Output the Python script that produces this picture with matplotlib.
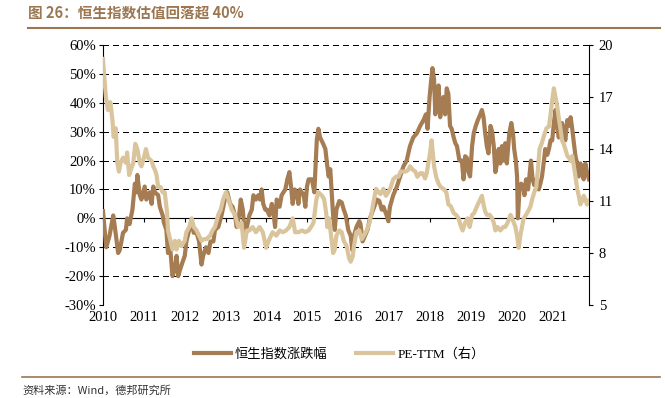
import matplotlib.pyplot as plt
import matplotlib.ticker as mticker

# 恒生指数涨跌幅 (%)
hsi_t = [2010.00, 2010.04, 2010.08, 2010.16, 2010.25, 2010.29, 2010.37, 2010.41, 2010.49, 2010.56,
         2010.59, 2010.65, 2010.72, 2010.78, 2010.82, 2010.84, 2010.90, 2010.94, 2011.02, 2011.06,
         2011.14, 2011.19, 2011.23, 2011.27, 2011.35, 2011.39, 2011.46, 2011.49, 2011.55, 2011.59,
         2011.64, 2011.70, 2011.76, 2011.80, 2011.84, 2011.88, 2011.95, 2012.00, 2012.04, 2012.11,
         2012.17, 2012.22, 2012.29, 2012.35, 2012.41, 2012.45, 2012.52, 2012.58, 2012.63, 2012.70,
         2012.74, 2012.82, 2012.90, 2012.98, 2013.04, 2013.11, 2013.17, 2013.23, 2013.27, 2013.33,
         2013.37, 2013.42, 2013.46, 2013.52, 2013.58, 2013.64, 2013.68, 2013.74, 2013.80, 2013.84,
         2013.88, 2013.92, 2013.97, 2014.01, 2014.07, 2014.13, 2014.17, 2014.21, 2014.25, 2014.32,
         2014.37, 2014.46, 2014.51, 2014.56, 2014.60, 2014.64, 2014.69, 2014.74, 2014.78, 2014.82,
         2014.91, 2014.95, 2014.99, 2015.03, 2015.11, 2015.17, 2015.23, 2015.27, 2015.31, 2015.38,
         2015.44, 2015.48, 2015.52, 2015.56, 2015.59, 2015.63, 2015.67, 2015.71, 2015.78, 2015.84,
         2015.89, 2015.94, 2016.00, 2016.06, 2016.10, 2016.14, 2016.20, 2016.27, 2016.30, 2016.35,
         2016.41, 2016.47, 2016.53, 2016.61, 2016.70, 2016.76, 2016.82, 2016.86, 2016.94, 2016.98,
         2017.02, 2017.10, 2017.19, 2017.27, 2017.35, 2017.43, 2017.51, 2017.59, 2017.68, 2017.76,
         2017.84, 2017.90, 2017.94, 2017.99, 2018.03, 2018.06, 2018.10, 2018.13, 2018.17, 2018.21,
         2018.25, 2018.29, 2018.33, 2018.37, 2018.41, 2018.45, 2018.49, 2018.53, 2018.58, 2018.62,
         2018.66, 2018.72, 2018.78, 2018.82, 2018.86, 2018.90, 2018.94, 2018.98, 2019.03, 2019.07,
         2019.12, 2019.17, 2019.23, 2019.27, 2019.31, 2019.35, 2019.39, 2019.43, 2019.48, 2019.52,
         2019.56, 2019.60, 2019.64, 2019.68, 2019.72, 2019.76, 2019.80, 2019.84, 2019.88, 2019.94,
         2019.99, 2020.03, 2020.06, 2020.10, 2020.13, 2020.15, 2020.19, 2020.23, 2020.28, 2020.31,
         2020.35, 2020.40, 2020.44, 2020.47, 2020.51, 2020.55, 2020.60, 2020.66, 2020.70, 2020.74,
         2020.78, 2020.82, 2020.87, 2020.91, 2020.95, 2020.99, 2021.03, 2021.07, 2021.11, 2021.15,
         2021.19, 2021.23, 2021.27, 2021.31, 2021.36, 2021.40, 2021.44, 2021.48, 2021.52, 2021.56,
         2021.60, 2021.64, 2021.68, 2021.72, 2021.76, 2021.80, 2021.84, 2021.89]
hsi_chg = [2.5, -4, -10, -6, 1, -3, -12, -11, -5, -4,
           0, -2, 3, 12, 9, 15, 8, 6.5, 11, 6.5,
           9, 5, 11, 9, 8, 4, 1, -1.5, -4, -12,
           -9.5, -20, -17.5, -13, -20, -18, -15, -13, -8, -4,
           -1.5, -5, -5, -8, -16, -13, -10, -12, -8, -8,
           -4, -3, 1, 6.5, 9, 5, 4, 1, -3, 1,
           6.5, 3, -4, -3, 1, 3, 8, 6.5, 8, 6.5,
           10, 5, 3, 3, 1, 5, 2, -3, 6.5, 4,
           8, 10, 13.5, 16, 11, 5, 10, 9, 5, 10,
           8, 4, 11, 13.5, 13.5, 9, 27, 31, 28, 26,
           24, 19, 14.5, 17, 10, 1, -4, 3, 6, 5.5,
           3, 1, -4, -6, -11, -6, -3, -1, -2, -8,
           -6, -4, 0, 3, 6.5, 6, 3, 4, 1, -1,
           4, 8, 11, 14.5, 18, 20, 25, 28, 29.5, 32,
           34, 36, 31, 42, 48, 52, 48, 36, 42, 46,
           35, 40, 42, 36, 45, 43, 32, 31, 28, 26,
           25, 20, 20, 13.5, 21.5, 21, 16, 14.5, 25, 29.5,
           32, 34, 36, 37.5, 35, 29.5, 25, 22.5, 32, 30,
           25, 16, 19, 24, 19, 25, 20, 26, 19, 29.5,
           33, 29.5, 24, 20, 14.5, 0, 10, 12, 11, 8,
           13.5, 10, 15.5, 20, 13.5, 11.5, 13.5, 10, 12, 14.5,
           19, 24, 22, 24, 27, 27, 33, 37.5, 32, 28,
           31, 33, 31, 27, 34, 32, 35, 31, 26, 21.5,
           19, 14.5, 19, 16, 13.5, 19, 16, 13.5]

# PE-TTM (右轴)
pe_t = [2010.00, 2010.02, 2010.07, 2010.12, 2010.18, 2010.23, 2010.26, 2010.31, 2010.35, 2010.39,
        2010.43, 2010.49, 2010.56, 2010.59, 2010.64, 2010.68, 2010.74, 2010.79, 2010.84, 2010.90,
        2010.94, 2011.00, 2011.05, 2011.10, 2011.19, 2011.23, 2011.27, 2011.31, 2011.35, 2011.41,
        2011.46, 2011.51, 2011.57, 2011.59, 2011.65, 2011.70, 2011.76, 2011.80, 2011.86, 2011.92,
        2012.00, 2012.04, 2012.11, 2012.17, 2012.22, 2012.29, 2012.35, 2012.41, 2012.47, 2012.53,
        2012.62, 2012.68, 2012.74, 2012.82, 2012.88, 2012.94, 2013.01, 2013.07, 2013.15, 2013.23,
        2013.31, 2013.39, 2013.45, 2013.52, 2013.58, 2013.66, 2013.74, 2013.83, 2013.91, 2013.99,
        2014.07, 2014.15, 2014.24, 2014.32, 2014.40, 2014.48, 2014.56, 2014.64, 2014.70, 2014.78,
        2014.87, 2014.95, 2015.03, 2015.09, 2015.15, 2015.22, 2015.27, 2015.36, 2015.41, 2015.46,
        2015.49, 2015.53, 2015.58, 2015.63, 2015.67, 2015.71, 2015.78, 2015.84, 2015.89, 2015.96,
        2016.02, 2016.06, 2016.11, 2016.14, 2016.20, 2016.27, 2016.33, 2016.38, 2016.45, 2016.52,
        2016.57, 2016.63, 2016.68, 2016.74, 2016.79, 2016.86, 2016.92, 2016.98, 2017.04, 2017.10,
        2017.17, 2017.23, 2017.28, 2017.35, 2017.41, 2017.47, 2017.51, 2017.58, 2017.64, 2017.69,
        2017.76, 2017.82, 2017.88, 2017.92, 2017.96, 2018.00, 2018.04, 2018.07, 2018.10, 2018.15,
        2018.21, 2018.26, 2018.33, 2018.40, 2018.45, 2018.51, 2018.58, 2018.64, 2018.70, 2018.76,
        2018.80, 2018.86, 2018.92, 2018.97, 2019.03, 2019.08, 2019.15, 2019.21, 2019.27, 2019.31,
        2019.35, 2019.39, 2019.46, 2019.52, 2019.56, 2019.60, 2019.65, 2019.72, 2019.79, 2019.84,
        2019.90, 2019.97, 2020.01, 2020.05, 2020.09, 2020.13, 2020.17, 2020.21, 2020.25, 2020.29,
        2020.35, 2020.42, 2020.46, 2020.50, 2020.55, 2020.60, 2020.64, 2020.68, 2020.73, 2020.78,
        2020.85, 2020.91, 2020.95, 2020.99, 2021.03, 2021.07, 2021.11, 2021.15, 2021.19, 2021.23,
        2021.27, 2021.31, 2021.36, 2021.40, 2021.44, 2021.48, 2021.52, 2021.56, 2021.60, 2021.64,
        2021.68, 2021.72, 2021.76, 2021.80, 2021.84, 2021.89]
pe_ttm = [19.2, 18.5, 17.0, 16.25, 16.7, 15.7, 14.7, 15.2, 13.2, 12.7,
          13.2, 13.5, 13.2, 13.8, 12.5, 12.8, 13.2, 14.3, 14.0, 13.2,
          13.0, 13.5, 14.0, 13.5, 13.3, 13.0, 12.8, 12.5, 11.8, 11.8,
          11.5, 11.5, 10.3, 9.3, 8.7, 8.2, 8.7, 8.2, 8.7, 8.4,
          8.7, 9.2, 9.5, 10.0, 9.5, 9.3, 9.0, 8.7, 8.8, 8.8,
          9.0, 9.3, 9.5, 10.2, 10.5, 11.1, 11.5, 11.1, 10.5, 10.2,
          9.5, 9.75, 8.3, 9.3, 9.3, 9.5, 9.2, 9.5, 9.2, 8.3,
          8.8, 9.2, 9.0, 9.3, 9.2, 9.3, 9.5, 10.0, 9.2, 9.2,
          9.3, 9.2, 9.3, 9.5, 9.75, 11.1, 11.5, 11.3, 11.1, 10.3,
          9.5, 10.0, 9.0, 8.0, 8.2, 9.0, 9.3, 9.2, 8.7, 8.4,
          7.7, 7.5, 7.8, 8.4, 9.2, 9.3, 8.8, 9.0, 9.3, 9.75,
          10.3, 11.1, 11.7, 11.5, 11.4, 11.7, 11.3, 11.5, 11.8, 12.25,
          12.4, 12.4, 12.7, 12.7, 12.7, 12.8, 13.0, 12.8, 12.7, 12.4,
          12.6, 12.6, 12.3, 12.6, 13.2, 13.75, 14.5, 13.75, 13.0, 12.4,
          12.0, 11.8, 11.7, 11.5, 10.8, 10.7, 10.3, 10.2, 10.0, 9.5,
          9.3, 9.75, 10.0, 9.5, 10.2, 10.3, 10.7, 11.0, 11.3, 10.8,
          10.4, 10.2, 10.2, 10.0, 9.75, 9.3, 9.5, 9.3, 9.5, 9.5,
          9.75, 10.2, 10.0, 9.75, 9.5, 9.0, 8.3, 9.0, 9.5, 10.0,
          10.2, 10.5, 10.7, 11.1, 11.5, 11.8, 12.8, 14.0, 14.3, 14.7,
          15.2, 15.3, 16.0, 16.8, 17.5, 17.0, 16.5, 15.8, 15.2, 14.5,
          14.3, 14.0, 13.6, 13.5, 13.3, 13.6, 13.0, 12.4, 11.7, 11.3,
          10.8, 11.0, 11.3, 11.1, 10.8, 11.0]

years = list(range(2010, 2022))
pct_ticks = list(range(-30, 61, 10))
pe_ticks = list(range(5, 21, 3))
dark = '#A67C52'
light = '#D9C49C'
brown = '#9C7651'
serif = 'Liberation Serif'
cjk = ['Liberation Serif', 'Noto Sans CJK SC']

fig = plt.figure(figsize=(6.65, 3.98), dpi=100)
ax = fig.add_axes([103/665, 1-305/398, (589-103)/665, 260/398])

ax.set_ylim(-30, 60)
ax.set_xlim(2010, 2021.89)
ax.set_yticks(pct_ticks)
ax.yaxis.set_major_formatter(mticker.FuncFormatter(lambda v, p: '%d%%' % v))

# dashed gridlines (0% is the solid axis line); crisp 1px black dashes
for v in pct_ticks:
    if v == 0:
        continue
    ax.axhline(v, color='black', lw=0.8, ls=(0, (5, 4)), zorder=1,
               antialiased=False, snap=True)

ax.plot(hsi_t, hsi_chg, color=dark, lw=3.0, zorder=3, label='恒生指数涨跌幅')

ax.spines['top'].set_visible(False)
ax.spines['right'].set_visible(False)
ax.spines['bottom'].set_position(('data', 0))
ax.set_xticks(years)
ax.tick_params(axis='x', direction='out', length=3, labelbottom=False)
ax.tick_params(axis='y', direction='out', length=3, labelsize=10.5, pad=2)
for lab in ax.get_yticklabels():
    lab.set_fontfamily(serif)

ax2 = ax.twinx()
ax2.plot(pe_t, pe_ttm, color=light, lw=3.0, zorder=3, label='PE-TTM（右）')
ax2.set_ylim(5, 20)
ax2.set_yticks(pe_ticks)
for s in ['top', 'left', 'bottom']:
    ax2.spines[s].set_visible(False)
ax2.tick_params(axis='y', direction='out', length=3, labelsize=10.5, pad=4)
for lab in ax2.get_yticklabels():
    lab.set_fontfamily(serif)
ax2.xaxis.set_visible(True)
ax2.set_xticks(years)
ax2.set_xticklabels([str(y) for y in years], fontfamily=serif)
ax2.tick_params(axis='x', labelbottom=True, length=0, labelsize=10.5, pad=4)

h1, l1 = ax.get_legend_handles_labels()
h2, l2 = ax2.get_legend_handles_labels()
fig.legend(h1 + h2, l1 + l2, loc='center', bbox_to_anchor=(0.51, 1-354/398), ncol=2,
           frameon=False, prop={'family': cjk, 'size': 9.5}, handlelength=2.8,
           handletextpad=0.3, columnspacing=2.2)

fig.text(28/665, 1-13/398, '图 26：恒生指数估值回落超 40%', color=brown, fontsize=10.5,
         fontweight='bold', family=['Noto Sans CJK SC', 'DejaVu Sans'], va='center', ha='left')
fig.add_artist(plt.Line2D([28/665, 660/665], [1-28/398, 1-28/398], color=brown, lw=1.5))
fig.add_artist(plt.Line2D([22/665, 660/665], [1-377/398, 1-377/398], color=brown, lw=1.2))
fig.text(22/665, 1-390/398, '资料来源：Wind，德邦研究所', color='#333333', fontsize=8,
         family=['Noto Sans CJK SC', 'DejaVu Sans'], va='center', ha='left')

fig.savefig('out.png', dpi=100)
